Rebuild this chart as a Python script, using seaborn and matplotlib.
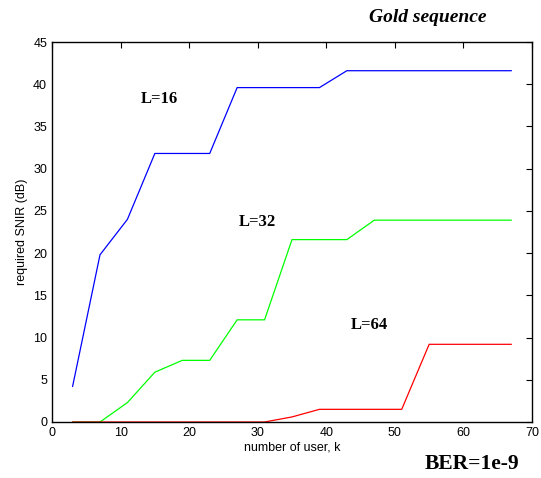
import numpy as np
import pandas as pd
import matplotlib
matplotlib.use("Agg")
import matplotlib.pyplot as plt
import seaborn as sns

users = [3, 7, 11, 15, 19, 23, 27, 31, 35, 39, 43, 47, 51, 55, 59, 63, 67]
snir_L16 = [4.2, 19.8, 24.0, 31.8, 31.8, 31.8, 39.6, 39.6, 39.6, 39.6, 41.6, 41.6, 41.6, 41.6, 41.6, 41.6, 41.6]
snir_L32 = [0.0, 0.0, 2.3, 5.9, 7.3, 7.3, 12.1, 12.1, 21.6, 21.6, 21.6, 23.9, 23.9, 23.9, 23.9, 23.9, 23.9]
snir_L64 = [0.0, 0.0, 0.0, 0.0, 0.0, 0.0, 0.0, 0.0, 0.6, 1.5, 1.5, 1.5, 1.5, 9.2, 9.2, 9.2, 9.2]
series_names = ["L=16", "L=32", "L=64"]
colors = ["#0000ff", "#00ff00", "#ff0000"]

df = pd.concat([
    pd.DataFrame({"k": users, "snir": v, "L": n})
    for n, v in zip(series_names, [snir_L16, snir_L32, snir_L64])
])

sns.set_style("white")
plt.rcParams["font.family"] = ["Liberation Sans", "DejaVu Sans"]
plt.rcParams["text.color"] = "black"
plt.rcParams["axes.labelcolor"] = "black"

fig = plt.figure(figsize=(5.41, 4.78), dpi=100)
ax = fig.add_axes([52/541, 56/478, 480/541, 380/478])
sns.lineplot(data=df, x="k", y="snir", hue="L", palette=colors, ax=ax,
             legend=False, linewidth=0.9)

ax.set_xlim(0, 70)
ax.set_ylim(0, 45)
ax.set_xticks(range(0, 71, 10))
ax.set_yticks(range(0, 46, 5))
ax.tick_params(direction="in", top=True, right=True, length=4, width=0.8,
               labelsize=9, colors="black")
for s in ax.spines.values():
    s.set_visible(True)
    s.set_color("black")
    s.set_linewidth(1.0)
ax.set_xlabel("number of user, k", fontsize=9, labelpad=2)
ax.set_ylabel("required SNIR (dB)", fontsize=9, labelpad=4)

serif = ["Liberation Serif", "DejaVu Serif"]
label_pos = [(15.7, 38.2), (30.0, 23.7), (46.3, 11.5)]
for n, (x, y) in zip(series_names, label_pos):
    ax.text(x, y, n, fontsize=12, fontweight="bold", family=serif,
            ha="center", va="center", color="black")

fig.text(428/541, 1 - 18/478, "Gold sequence", fontsize=14, fontweight="bold",
         fontstyle="italic", family=serif, ha="center", va="center", color="black")
fig.text(472/541, 1 - 464/478, "BER=1e-9", fontsize=15.5, fontweight="bold",
         family=serif, ha="center", va="center", color="black")

fig.savefig("out.png", dpi=100)
